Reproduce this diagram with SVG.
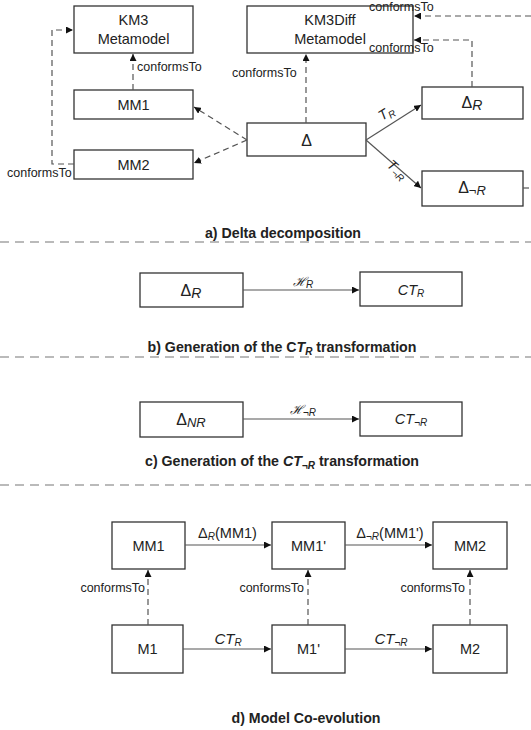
<svg xmlns="http://www.w3.org/2000/svg" width="531" height="730" viewBox="0 0 531 730">
<style>
text{font-family:"Liberation Sans",Arial,sans-serif;fill:#222}
.box{fill:#fff;stroke:#333;stroke-width:1.3}
.lbl{font-size:14.5px;text-anchor:middle}
.sym{font-size:16px;text-anchor:middle}
.ct{font-size:12.5px}
.sec{font-size:14.2px;font-weight:bold;text-anchor:middle}
.it{font-style:italic}
.dash{fill:none;stroke:#555;stroke-width:1.2;stroke-dasharray:6,4}
.solid{fill:none;stroke:#555;stroke-width:1.2}
.sep{fill:none;stroke:#777;stroke-width:1.2;stroke-dasharray:9,6}
.scr{font-family:"DejaVu Serif",serif;font-style:italic}
</style>
<defs>
<marker id="ah" viewBox="0 0 10 10" refX="10" refY="5" markerWidth="7" markerHeight="7" markerUnits="userSpaceOnUse" orient="auto">
<path d="M0,0 L10,5 L0,10 z" fill="#111"/>
</marker>
</defs>

<!-- a) Delta decomposition -->
<g id="km3"><rect class="box" x="74" y="6" width="119" height="47"/><text class="lbl" x="133.5" y="25">KM3</text><text class="lbl" x="133.5" y="44">Metamodel</text></g>
<g id="mm1a"><rect class="box" x="74" y="90" width="119" height="29"/><text class="lbl" x="133.5" y="110">MM1</text></g>
<g id="mm2a"><rect class="box" x="74" y="150" width="119" height="29"/><text class="lbl" x="133.5" y="170">MM2</text></g>
<g id="km3diff"><rect class="box" x="247" y="6" width="166" height="47"/><text class="lbl" x="330" y="25">KM3Diff</text><text class="lbl" x="330" y="44">Metamodel</text></g>
<g id="delta"><rect class="box" x="247" y="123" width="119" height="33"/><text class="sym" x="306.5" y="146">Δ</text></g>
<g id="deltaR"><rect class="box" x="422" y="87" width="101" height="32"/><text class="sym" x="472" y="108">Δ<tspan class="it" font-size="14" dy="2">R</tspan></text></g>
<g id="deltaNotR"><rect class="box" x="422" y="171" width="101" height="35"/><text class="sym" x="472" y="193">Δ<tspan class="it" font-size="13" dy="2">¬R</tspan></text></g>

<g id="connectors-a">
<path class="dash" d="M133,90 V54" marker-end="url(#ah)"/>
<path class="dash" d="M74,164 H52 V30 H73" marker-end="url(#ah)"/>
<path class="dash" d="M306,123 V54" marker-end="url(#ah)"/>
<path class="dash" d="M472,87 V40 H414" marker-end="url(#ah)"/>
<path class="dash" d="M531,16 H414" marker-end="url(#ah)"/>
<path class="dash" d="M523,188 H531"/>
<path class="dash" d="M247,140 L194,107" marker-end="url(#ah)"/>
<path class="dash" d="M247,140 L194,163" marker-end="url(#ah)"/>
<path class="solid" d="M366,140 L421,105" marker-end="url(#ah)"/>
<path class="solid" d="M366,140 L421,188" marker-end="url(#ah)"/>
<text class="ct" x="137" y="71">conformsTo</text>
<text class="ct" x="7" y="177">conformsTo</text>
<text class="ct" x="232" y="77">conformsTo</text>
<text class="ct" x="369" y="52">conformsTo</text>
<text class="ct" x="369" y="11">conformsTo</text>
<text transform="translate(382,121) rotate(-32)" font-size="14"><tspan class="it">T</tspan><tspan class="it" font-size="10" dy="3">R</tspan></text>
<text transform="translate(386,166) rotate(41)" font-size="14"><tspan class="it">T</tspan><tspan class="it" font-size="10" dy="3">¬R</tspan></text>
</g>
<text class="sec" x="283" y="238">a) Delta decomposition</text>
<path class="sep" d="M0,242 H531"/>

<!-- b) -->
<g id="deltaR-b"><rect class="box" x="140" y="273" width="103" height="34"/><text class="sym" x="191" y="296">Δ<tspan class="it" font-size="14" dy="2">R</tspan></text></g>
<g id="ctR-b"><rect class="box" x="360" y="272" width="102" height="34"/><text class="lbl it" x="411" y="295">CT<tspan font-size="10" dy="2">R</tspan></text></g>
<g id="connectors-b">
<path class="solid" d="M243,290 H359" marker-end="url(#ah)"/>
<text x="303" y="286" font-size="12.5" text-anchor="middle"><tspan class="scr">ℋ</tspan><tspan class="it" font-size="10" dy="2">R</tspan></text>
</g>
<text class="sec" x="282" y="352">b) Generation of the C<tspan class="it">T</tspan><tspan class="it" font-size="10" dy="3">R</tspan><tspan dy="-3"> transformation</tspan></text>
<path class="sep" d="M0,357 H531"/>

<!-- c) -->
<g id="deltaNR-c"><rect class="box" x="140" y="402" width="103" height="35"/><text class="sym" x="191" y="425">Δ<tspan class="it" font-size="13" dy="2">NR</tspan></text></g>
<g id="ctNotR-c"><rect class="box" x="360" y="402" width="102" height="34"/><text class="lbl it" x="411" y="424">CT<tspan font-size="10" dy="2">¬R</tspan></text></g>
<g id="connectors-c">
<path class="solid" d="M243,419 H359" marker-end="url(#ah)"/>
<text x="303" y="414" font-size="12.5" text-anchor="middle"><tspan class="scr">ℋ</tspan><tspan class="it" font-size="10" dy="2">¬R</tspan></text>
</g>
<text class="sec" x="282" y="466">c) Generation of the <tspan class="it">CT</tspan><tspan class="it" font-size="10" dy="3">¬R</tspan><tspan dy="-3"> transformation</tspan></text>
<path class="sep" d="M0,485 H531"/>

<!-- d) -->
<g id="mm1"><rect class="box" x="112" y="522" width="73" height="47"/><text class="lbl" x="148.5" y="551">MM1</text></g>
<g id="mm1p"><rect class="box" x="272" y="522" width="73" height="47"/><text class="lbl" x="308.5" y="551">MM1'</text></g>
<g id="mm2"><rect class="box" x="433" y="522" width="74" height="47"/><text class="lbl" x="470" y="551">MM2</text></g>
<g id="m1"><rect class="box" x="112" y="625" width="71" height="48"/><text class="lbl" x="147.5" y="654">M1</text></g>
<g id="m1p"><rect class="box" x="272" y="625" width="73" height="48"/><text class="lbl" x="308.5" y="654">M1'</text></g>
<g id="m2"><rect class="box" x="433" y="625" width="74" height="48"/><text class="lbl" x="470" y="654">M2</text></g>
<g id="connectors-d">
<path class="solid" d="M185,545 H271" marker-end="url(#ah)"/>
<path class="solid" d="M345,545 H432" marker-end="url(#ah)"/>
<path class="solid" d="M183,649 H271" marker-end="url(#ah)"/>
<path class="solid" d="M345,649 H432" marker-end="url(#ah)"/>
<path class="dash" d="M148,625 V570" marker-end="url(#ah)"/>
<path class="dash" d="M308,625 V570" marker-end="url(#ah)"/>
<path class="dash" d="M470,625 V570" marker-end="url(#ah)"/>
<text x="227.5" y="538" font-size="14.5" text-anchor="middle">Δ<tspan class="it" font-size="10" dy="2">R</tspan><tspan dy="-2">(MM1)</tspan></text>
<text x="390" y="538" font-size="14.5" text-anchor="middle">Δ<tspan class="it" font-size="10" dy="2">¬R</tspan><tspan dy="-2">(MM1')</tspan></text>
<text class="it" x="228" y="644" font-size="15" text-anchor="middle">CT<tspan font-size="10" dy="2">R</tspan></text>
<text class="it" x="391" y="644" font-size="15" text-anchor="middle">CT<tspan font-size="10" dy="2">¬R</tspan></text>
<text class="ct" x="145" y="592" text-anchor="end">conformsTo</text>
<text class="ct" x="304" y="592" text-anchor="end">conformsTo</text>
<text class="ct" x="465" y="592" text-anchor="end">conformsTo</text>
</g>
<text class="sec" x="306" y="723">d) Model Co-evolution</text>
</svg>
